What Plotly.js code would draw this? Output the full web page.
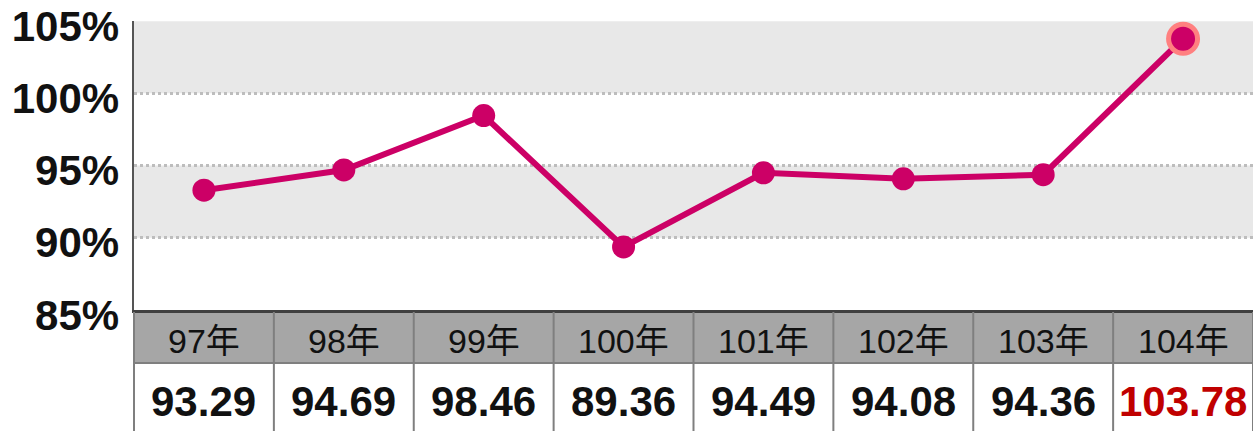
<!DOCTYPE html>
<html>
<head>
<meta charset="utf-8">
<script src="https://cdn.plot.ly/plotly-3.0.1.min.js"></script>
<style>
  html, body { margin: 0; padding: 0; background: #ffffff; }
  #chart { width: 1253px; height: 431px; }
</style>
</head>
<body>
<div id="chart"></div>
<script>
// ---- data ----
const years = ['97年', '98年', '99年', '100年', '101年', '102年', '103年', '104年'];
const values = [93.29, 94.69, 98.46, 89.36, 94.49, 94.08, 94.36, 103.78];
const valueLabels = ['93.29', '94.69', '98.46', '89.36', '94.49', '94.08', '94.36', '103.78'];
const yTicks = [85, 90, 95, 100, 105];
const yTickText = ['85%', '90%', '95%', '100%', '105%'];
const shadedBands = [[90, 95], [100, 105]];

// ---- layout helpers ----
const W = 1253, H = 431;
const mL = 134, mR = 0, mT = 21, mB = 121;
const plotH = H - mT - mB;
const pxToPaperY = py => (H - mB - py) / plotH;

const FONT = 'Liberation Sans, Arial, Noto Sans CJK TC, sans-serif';
const n = years.length;
const lastIdx = n - 1;

const markerColors = values.map(() => '#cc0066');
const markerSizes = values.map((v, i) => i === lastIdx ? 29 : 23);
const markerLineW = values.map((v, i) => i === lastIdx ? 5 : 0);
const markerLineC = values.map((v, i) => i === lastIdx ? '#ff8080' : '#cc0066');

const trace = {
  x: years,
  y: values,
  type: 'scatter',
  mode: 'lines+markers',
  line: { color: '#cc0066', width: 6 },
  marker: { color: markerColors, size: markerSizes, opacity: 1, line: { width: markerLineW, color: markerLineC } },
  hoverinfo: 'skip',
  cliponaxis: false
};

const shapes = [];
// alternating background bands
shadedBands.forEach(b => {
  shapes.push({ type: 'rect', layer: 'below', xref: 'paper', yref: 'y', x0: 0, x1: 1, y0: b[0], y1: b[1],
    fillcolor: '#e8e8e8', line: { width: 0 } });
});

// table
const rowTop = pxToPaperY(312);
const rowMid = pxToPaperY(363);
const rowBot = pxToPaperY(H);
shapes.push({ type: 'rect', layer: 'below', xref: 'paper', yref: 'paper', x0: 0, x1: 1, y0: rowMid, y1: rowTop,
  fillcolor: '#a6a6a6', line: { width: 0 } });
shapes.push({ type: 'line', xref: 'paper', yref: 'paper', x0: 0, x1: 1, y0: rowMid, y1: rowMid,
  line: { color: '#7f7f7f', width: 2 } });
for (let i = 0; i <= n; i++) {
  shapes.push({ type: 'line', xref: 'paper', yref: 'paper', x0: i / n, x1: i / n, y0: rowBot, y1: rowTop,
    line: { color: '#7f7f7f', width: 2 } });
}

const annotations = [];
years.forEach((yr, i) => {
  annotations.push({ xref: 'x', yref: 'paper', x: yr, y: pxToPaperY(341), yanchor: 'middle', xanchor: 'center',
    text: yr, showarrow: false, font: { family: FONT, size: 34, color: '#111111' } });
  annotations.push({ xref: 'x', yref: 'paper', x: yr, y: pxToPaperY(401), yanchor: 'middle', xanchor: 'center',
    text: '<b>' + valueLabels[i] + '</b>', showarrow: false,
    font: { family: FONT, size: 42, color: i === lastIdx ? '#c00000' : '#111111' } });
});

const layout = {
  width: W, height: H,
  margin: { l: mL, r: mR, t: mT, b: mB, pad: 0 },
  paper_bgcolor: '#ffffff',
  plot_bgcolor: '#ffffff',
  showlegend: false,
  xaxis: {
    type: 'category',
    range: [-0.5, n - 0.5],
    showticklabels: false,
    showgrid: false,
    zeroline: false,
    showline: true,
    linecolor: '#404040',
    linewidth: 3,
    ticks: '',
    fixedrange: true
  },
  yaxis: {
    range: [84.99, 105.01],
    tickvals: yTicks,
    ticktext: yTickText.map(t => '<b>' + t + '</b>'),
    tickfont: { family: FONT, size: 42, color: '#111111' },
    ticks: '',
    ticklabelstandoff: 4,
    ticklabelshift: 5,
    showgrid: true,
    gridcolor: '#bdbdbd',
    gridwidth: 3,
    griddash: 'dot',
    zeroline: false,
    showline: true,
    linecolor: '#555555',
    linewidth: 2.5,
    fixedrange: true
  },
  shapes: shapes,
  annotations: annotations
};

Plotly.newPlot('chart', [trace], layout, { displayModeBar: false, staticPlot: true });
</script>
</body>
</html>
